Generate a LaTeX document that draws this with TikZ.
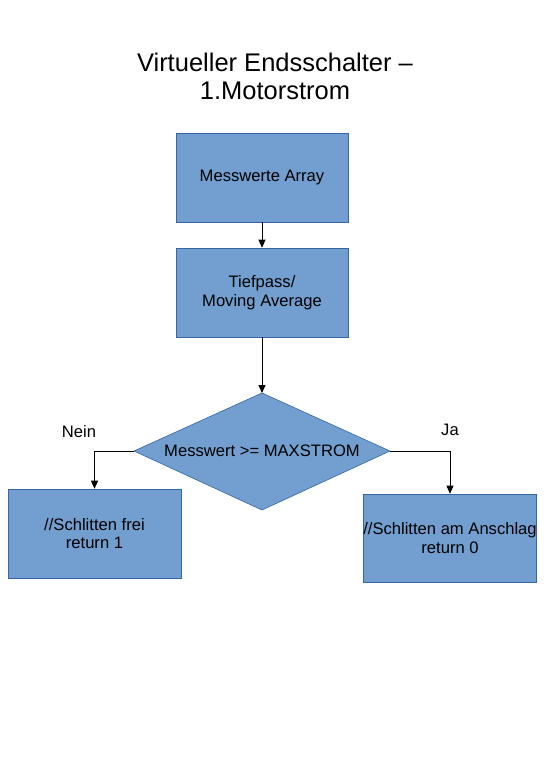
\documentclass[tikz,border=0pt]{standalone}
\usepackage{fontspec}
\setmainfont{Liberation Sans}
\usetikzlibrary{arrows.meta}
\definecolor{boxfill}{HTML}{729FCF}
\definecolor{boxline}{HTML}{3465A4}
\tikzset{
  body/.style={font=\fontsize{16.6}{18.5}\selectfont, align=center, text=black},
  procbox/.style={body, draw=boxline, fill=boxfill, line width=0.6pt, inner sep=0pt},
  conn/.style={draw=black, line width=0.8pt, -{Triangle[length=8pt,width=7pt]}},
  lbl/.style={font=\fontsize{16.6}{18.5}\selectfont, text=black}
}
\begin{document}
\begin{tikzpicture}[x=1pt,y=-1pt]
\useasboundingbox (0,0) rectangle (550,777);
\node[font=\fontsize{25.5}{28}\selectfont, align=center] (title) at (275,76) {Virtueller Endsschalter –\\1.Motorstrom};
\node[procbox, minimum width=172pt, minimum height=89pt] (a) at (262,177.5) {Messwerte Array};
\node[procbox, minimum width=172pt, minimum height=89pt] (b) at (262,292.5) {Tiefpass/\\Moving Average};
\coordinate (dt) at (262,393);
\coordinate (dl) at (134,451);
\coordinate (dr) at (390,451);
\coordinate (db) at (262,510);
\path[draw=boxline, fill=boxfill, line width=0.6pt] (dt) -- (dr) -- (db) -- (dl) -- cycle;
\node[body] (d) at (262,451) {Messwert >= MAXSTROM};
\node[procbox, minimum width=173pt, minimum height=89pt] (l) at (94.5,533.5) {//Schlitten frei\\return 1};
\node[procbox, minimum width=172pt, minimum height=88pt] (r) at (450,538) {//Schlitten am Anschlag\\return 0};
\node[lbl] (nein) at (79,432) {Nein};
\node[lbl] (ja) at (450,430) {Ja};
\draw[conn] (a.south) -- (b.north);
\draw[conn] (b.south) -- (dt);
\draw[conn] (dl) -| (l.north);
\draw[conn] (dr) -| (r.north);
\end{tikzpicture}
\end{document}
